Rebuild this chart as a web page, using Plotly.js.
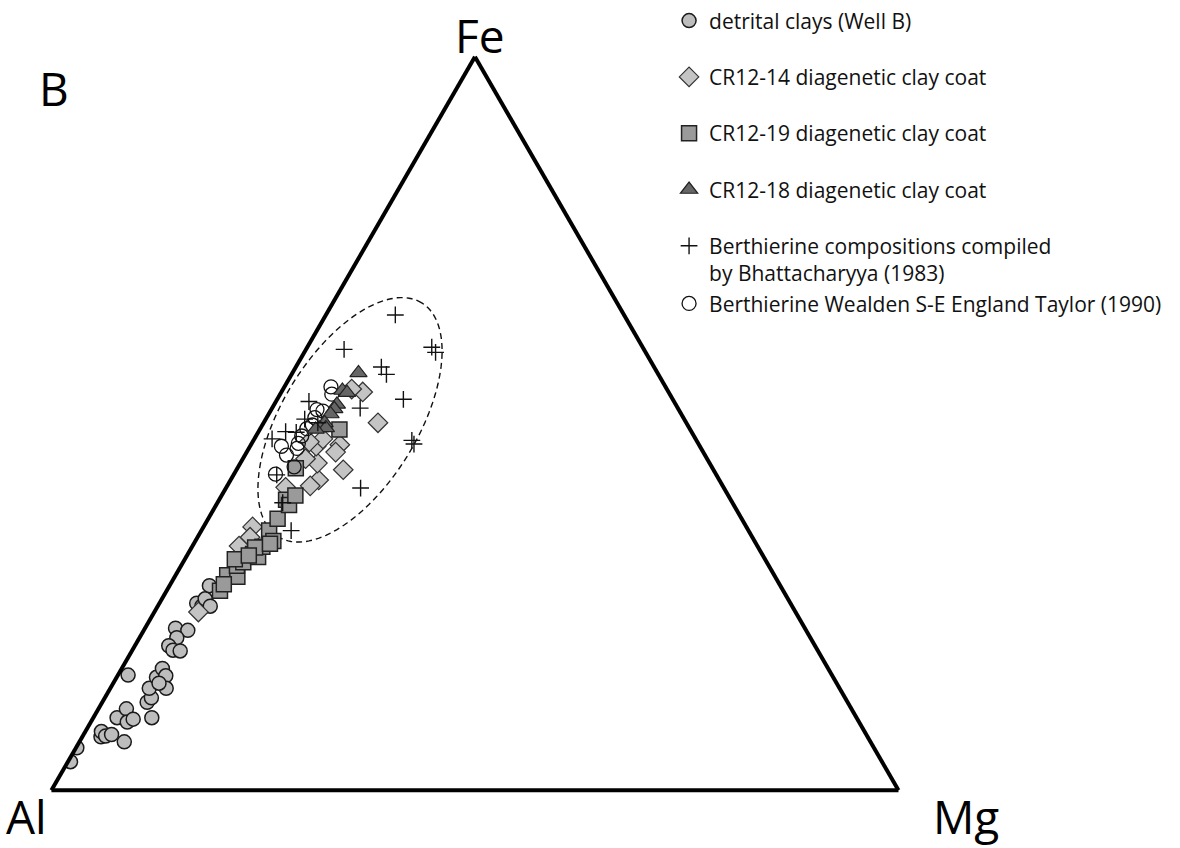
<!DOCTYPE html>
<html>
<head>
<meta charset="utf-8">
<script src="https://cdn.plot.ly/plotly-3.0.1.min.js"></script>
<style>
  html, body { margin: 0; padding: 0; background: #ffffff; }
  #chart { width: 1180px; height: 848px; }
</style>
</head>
<body>
<div id="chart"></div>
<script>
// ---------- DATA (compositions in %, Fe + Al + Mg = 100) ----------
// detrital clays (Well B)
const detritalFe = [3.9, 5.8, 7.3, 8.0, 7.4, 7.6, 6.6, 9.9, 11.1, 9.3, 9.7, 15.7, 12.0, 12.6, 9.9, 13.9, 15.4, 16.6, 15.6, 13.9, 14.6, 22.1, 21.8, 20.8, 19.7, 19.1, 19.0, 25.5, 25.1, 26.1, 27.9, 25.1];
const detritalAl = [95.8, 94.1, 90.5, 90.1, 89.9, 89.1, 88.1, 87.3, 85.6, 86.4, 85.5, 83.1, 82.7, 81.9, 83.2, 81.5, 79.9, 78.6, 78.7, 79.5, 80.0, 74.3, 73.0, 74.8, 76.3, 76.1, 75.3, 70.1, 69.7, 68.8, 67.4, 68.7];
const detritalMg = [0.3, 0.1, 2.2, 1.9, 2.7, 3.3, 5.3, 2.8, 3.3, 4.3, 4.8, 1.2, 5.3, 5.5, 6.9, 4.6, 4.7, 4.8, 5.7, 6.6, 5.4, 3.6, 5.2, 4.4, 4.0, 4.8, 5.7, 4.4, 5.2, 5.1, 4.7, 6.2];

// CR12-14 diagenetic clay coat
const cr14Fe = [54.3, 54.7, 50.1, 47.1, 46.1, 43.7, 42.3, 41.5, 44.6, 45.2, 46.9, 47.9, 47.5, 41.3, 35.9, 34.5, 33.3, 24.3];
const cr14Al = [36.1, 37.2, 36.4, 42.4, 43.4, 43.7, 47.3, 48.7, 46.3, 47.4, 45.3, 44.0, 45.8, 51.7, 58.3, 59.3, 61.2, 70.5];
const cr14Mg = [9.6, 8.1, 13.5, 10.5, 10.5, 12.6, 10.4, 9.8, 9.1, 7.4, 7.8, 8.1, 6.7, 7.0, 5.8, 6.2, 5.5, 5.2];

// CR12-19 diagenetic clay coat
const cr19Fe = [27.2, 29.3, 29.1, 30.6, 31.1, 31.5, 32.2, 31.8, 33.2, 33.1, 35.4, 34.0, 37.0, 39.6, 38.9, 40.2, 43.9, 49.2, 33.6, 32.0, 28.1];
const cr19Al = [66.5, 64.6, 63.5, 62.8, 61.8, 62.6, 60.1, 59.7, 58.5, 59.4, 56.6, 56.8, 54.8, 52.5, 52.5, 51.1, 49.2, 41.4, 57.4, 60.7, 65.6];
const cr19Mg = [6.3, 6.1, 7.4, 6.6, 7.1, 5.9, 7.7, 8.5, 8.3, 7.5, 8.0, 9.2, 8.2, 7.9, 8.6, 8.7, 6.9, 9.4, 9.0, 7.3, 6.3];

// CR12-18 diagenetic clay coat
const cr18Fe = [56.9, 54.5, 54.2, 52.6, 52.0, 51.3, 50.1, 49.4, 49.4, 49.2];
const cr18Al = [35.3, 38.4, 38.0, 40.0, 40.6, 41.4, 42.7, 43.6, 42.9, 44.2];
const cr18Mg = [7.8, 7.1, 7.8, 7.4, 7.4, 7.3, 7.2, 7.0, 7.7, 6.6];

// Berthierine compositions compiled by Bhattacharyya (1983)
const bhatFe = [64.8, 60.1, 60.4, 59.7, 57.7, 56.7, 52.1, 53.3, 47.7, 47.2, 41.2, 53.0, 50.6, 48.8, 48.9, 47.9, 43.0, 35.4, 39.2, 50.1];
const bhatAl = [27.0, 35.4, 24.9, 24.8, 32.2, 32.1, 37.5, 31.8, 33.6, 33.6, 42.9, 43.1, 44.8, 46.7, 47.9, 50.0, 51.9, 54.0, 53.1, 43.5];
const bhatMg = [8.2, 4.5, 14.7, 15.5, 10.1, 11.2, 10.4, 14.9, 18.7, 19.2, 15.9, 3.9, 4.6, 4.5, 3.2, 2.1, 5.1, 10.6, 7.7, 6.4];

// Berthierine Wealden S-E England Taylor (1990)
const taylorFe = [55.0, 54.0, 51.9, 51.7, 50.8, 49.8, 49.3, 47.3, 46.6, 46.9, 45.7, 43.1, 44.1, 48.3];
const taylorAl = [39.5, 39.9, 42.7, 42.1, 43.5, 44.3, 45.2, 47.2, 47.7, 49.4, 49.4, 52.0, 49.3, 46.3];
const taylorMg = [5.5, 6.1, 5.4, 6.2, 5.7, 5.9, 5.5, 5.5, 5.7, 3.7, 4.9, 4.9, 6.6, 5.4];

// Berthierine field (dashed ellipse): centre composition and axes (% of triangle side)
const fieldCentre = { Fe: 50.5, Al: 39.5, Mg: 10.0 };
const fieldSemiMajor = 16.2;
const fieldSemiMinor = 8.0;
const fieldAngleDeg = 58.5;

// Labels
const seriesNames = [
  'detrital clays (Well B)',
  'CR12-14 diagenetic clay coat',
  'CR12-19 diagenetic clay coat',
  'CR12-18 diagenetic clay coat',
  'Berthierine compositions compiled<br>by Bhattacharyya (1983)',
  'Berthierine Wealden S-E England Taylor (1990)'
];
const apexLabels = { top: 'Fe', left: 'Al', right: 'Mg' };
const panelLabel = 'B';

// ---------- ellipse outline in ternary space ----------
function fieldOutline(n) {
  const s3 = Math.sqrt(3) / 2;
  const a0 = fieldCentre.Fe / 100, c0 = fieldCentre.Mg / 100;
  const X0 = c0 + a0 / 2, Y0 = a0 * s3;
  const phi = fieldAngleDeg * Math.PI / 180;
  const A = fieldSemiMajor / 100, B = fieldSemiMinor / 100;
  const fe = [], al = [], mg = [];
  for (let i = 0; i <= n; i++) {
    const t = 2 * Math.PI * i / n;
    const X = X0 + A * Math.cos(phi) * Math.cos(t) - B * Math.sin(phi) * Math.sin(t);
    const Y = Y0 + A * Math.sin(phi) * Math.cos(t) + B * Math.cos(phi) * Math.sin(t);
    const a = Y / s3, c = X - a / 2, b = 1 - a - c;
    fe.push(a * 100); al.push(b * 100); mg.push(c * 100);
  }
  return { fe, al, mg };
}
const outline = fieldOutline(160);

const FONT = '"Open Sans", "Noto Sans", "DejaVu Sans", sans-serif';

const traces = [
  {
    type: 'scatterternary', mode: 'lines', a: outline.fe, b: outline.al, c: outline.mg,
    line: { color: '#111111', width: 1.4, dash: '6px,4px' },
    showlegend: false, hoverinfo: 'skip'
  },
  {
    type: 'scatterternary', mode: 'markers', name: seriesNames[0], legendrank: 1, legendgroup: 'g1',
    a: detritalFe, b: detritalAl, c: detritalMg,
    marker: { symbol: 'circle', size: 14, color: '#bdbdbd', line: { color: '#1a1a1a', width: 1.5 } }
  },
  {
    type: 'scatterternary', mode: 'markers', name: seriesNames[1], legendrank: 2, legendgroup: 'g2',
    a: cr14Fe, b: cr14Al, c: cr14Mg,
    marker: { symbol: 'diamond', size: 15, color: '#c4c4c4', line: { color: '#333333', width: 1.2 } }
  },
  {
    type: 'scatterternary', mode: 'markers', name: seriesNames[2], legendrank: 3, legendgroup: 'g3',
    a: cr19Fe, b: cr19Al, c: cr19Mg,
    marker: { symbol: 'square', size: 15, color: '#9a9a9a', line: { color: '#222222', width: 1.5 } }
  },
  {
    type: 'scatterternary', mode: 'markers', name: seriesNames[5], legendrank: 6, legendgroup: 'g5',
    a: taylorFe, b: taylorAl, c: taylorMg,
    marker: { symbol: 'circle-open', size: 14, color: '#111111', line: { color: '#111111', width: 1.3 } }
  },
  {
    type: 'scatterternary', mode: 'markers', name: seriesNames[3], legendrank: 4, legendgroup: 'g4',
    a: cr18Fe, b: cr18Al, c: cr18Mg,
    marker: { symbol: 'triangle-up', size: 15, color: '#666666', line: { color: '#222222', width: 1.2 } }
  },
  {
    type: 'scatterternary', mode: 'markers', name: seriesNames[4], legendrank: 5, legendgroup: 'g5',
    a: bhatFe, b: bhatAl, c: bhatMg,
    marker: { symbol: 'cross-thin', size: 12, color: '#111111', line: { color: '#111111', width: 1.4 } }
  }
];

const axisStyle = {
  showline: true, linecolor: '#000000', linewidth: 4,
  showgrid: false, showticklabels: false, ticks: '',
  title: { text: '' }
};

const W = 1180, H = 848;
const labelFont = { family: FONT, size: 46, color: '#000000' };

const layout = {
  width: W, height: H,
  margin: { l: 0, r: 0, t: 0, b: 0, pad: 0 },
  paper_bgcolor: '#ffffff',
  plot_bgcolor: '#ffffff',
  font: { family: FONT, color: '#111111' },
  ternary: {
    sum: 100,
    domain: { x: [0.0225, 0.7825], y: [0.0683, 0.9364] },
    bgcolor: 'rgba(0,0,0,0)',
    aaxis: axisStyle, baxis: axisStyle, caxis: axisStyle
  },
  showlegend: true,
  legend: {
    x: 0.567, y: 1.003, xanchor: 'left', yanchor: 'top',
    font: { family: FONT, size: 21, color: '#111111' },
    tracegroupgap: 26, valign: 'top',
    bgcolor: 'rgba(0,0,0,0)', itemsizing: 'trace'
  },
  annotations: [
    { text: apexLabels.top, x: 480 / W, y: 1 - 32 / H, xref: 'paper', yref: 'paper', showarrow: false, font: labelFont, xanchor: 'center', yanchor: 'middle' },
    { text: apexLabels.left, x: 26 / W, y: 1 - 816 / H, xref: 'paper', yref: 'paper', showarrow: false, font: labelFont, xanchor: 'center', yanchor: 'middle' },
    { text: apexLabels.right, x: 966 / W, y: 1 - 816 / H, xref: 'paper', yref: 'paper', showarrow: false, font: labelFont, xanchor: 'center', yanchor: 'middle' },
    { text: panelLabel, x: 54 / W, y: 1 - 85 / H, xref: 'paper', yref: 'paper', showarrow: false, font: labelFont, xanchor: 'center', yanchor: 'middle' }
  ]
};

Plotly.newPlot('chart', traces, layout, { displayModeBar: false, staticPlot: true });
</script>
</body>
</html>
